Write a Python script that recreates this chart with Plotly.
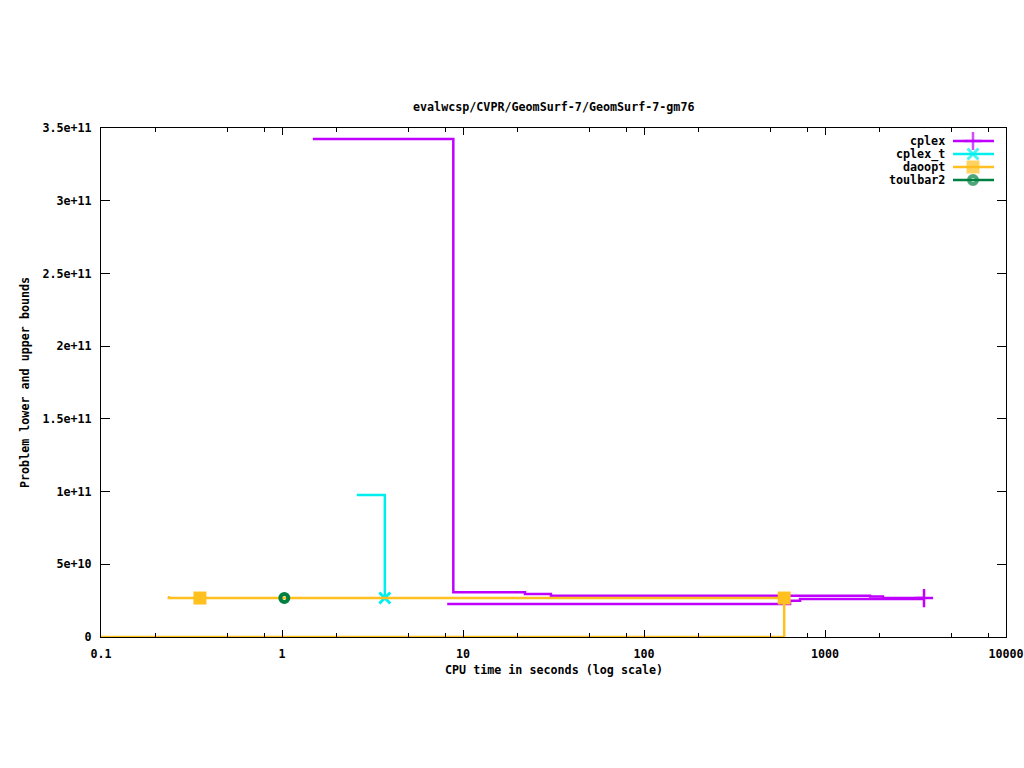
import plotly.graph_objects as go

# ---------------- data ----------------
title_text = "evalwcsp/CVPR/GeomSurf-7/GeomSurf-7-gm76"
x_title = "CPU time in seconds (log scale)"
y_title = "Problem lower and upper bounds"

series_names = ["cplex", "cplex_t", "daoopt", "toulbar2"]
series_colors = ["#c000ff", "#00eeee", "#ffc020", "#008040"]

# cplex upper bound (step)
cplex_ub_t = [1.48, 8.84, 22.0, 30.6, 1774, 2090, 3524]
cplex_ub_v = [3.424e11, 3.07e10, 2.96e10, 2.84e10, 2.78e10, 2.69e10, 2.69e10]
# cplex lower bound (step)
cplex_lb_t = [8.18, 641, 728, 3524]
cplex_lb_v = [2.27e10, 2.50e10, 2.62e10, 2.62e10]
cplex_mark_t = [3524]
cplex_mark_v = [2.68e10]

# cplex_t upper bound
cplext_ub_t = [2.59, 3.7]
cplext_ub_v = [9.76e10, 2.68e10]
cplext_mark_t = [3.7]
cplext_mark_v = [2.68e10]

# daoopt upper / lower bound
daoopt_ub_t = [0.234, 0.237, 595]
daoopt_ub_v = [2.73e10, 2.68e10, 2.68e10]
daoopt_lb_t = [0.1, 595]
daoopt_lb_v = [0.0, 2.68e10]
daoopt_mark_t = [0.352, 595]
daoopt_mark_v = [2.68e10, 2.68e10]

# toulbar2
toulbar2_t = [1.03]
toulbar2_v = [2.68e10]

x_tickvals = [0.1, 1, 10, 100, 1000, 10000]
x_ticktext = ["0.1", "1", "10", "100", "1000", "10000"]
x_minor = [0.2, 0.5, 0.8, 2, 5, 8, 20, 50, 80, 200, 500, 800, 2000, 5000, 8000]
y_tickvals = [0, 5e10, 1e11, 1.5e11, 2e11, 2.5e11, 3e11, 3.5e11]
y_ticktext = ["0", "5e+10", "1e+11", "1.5e+11", "2e+11", "2.5e+11", "3e+11", "3.5e+11"]

# ---------------- figure ----------------
FONT = dict(family="DejaVu Sans Mono", size=11.7, color="black", weight="bold")
LW = 2.5

fig = go.Figure()

def step(x, y, color):
    fig.add_trace(go.Scatter(x=x, y=y, mode="lines", line=dict(color=color, width=LW, shape="hv"),
                             showlegend=False, hoverinfo="skip"))

def marks(x, y, symbol, size, color, lw):
    fig.add_trace(go.Scatter(x=x, y=y, mode="markers",
                             marker=dict(symbol=symbol, size=size, color=color,
                                         line=dict(color=color, width=lw)),
                             showlegend=False, hoverinfo="skip"))

c_cplex, c_cplext, c_dao, c_tb = series_colors
step(cplex_ub_t, cplex_ub_v, c_cplex)
step(cplex_lb_t, cplex_lb_v, c_cplex)
marks(cplex_mark_t, cplex_mark_v, "cross-thin", 13, c_cplex, 2.5)
step(cplext_ub_t, cplext_ub_v, c_cplext)
marks(cplext_mark_t, cplext_mark_v, "x-thin", 11, c_cplext, 3)
step(daoopt_ub_t, daoopt_ub_v, c_dao)
step(daoopt_lb_t, daoopt_lb_v, c_dao)
marks(daoopt_mark_t, daoopt_mark_v, "square", 13, c_dao, 0)
marks(toulbar2_t, toulbar2_v, "circle-open", 8, c_tb, 4)

# ---------------- custom gnuplot-style legend ----------------
L, R, T, B = 101, 18, 128, 131
W, H = 1024, 768
PW, PH = W - L - R, H - T - B
def px(x): return (x - L) / PW
def py(y): return (T + PH - y) / PH

leg_rows = [141, 154, 167, 180]
leg_symbols = [("cross-thin", 13, 2.5), ("x-thin", 11, 3), ("square", 13, 0), ("circle-open", 8, 4)]
for name, color, row, (sym, sz, lw) in zip(series_names, series_colors, leg_rows, leg_symbols):
    yy = py(row)
    fig.add_trace(go.Scatter(x=[px(953), px(973), px(994)], y=[yy, yy, yy], xaxis="x2", yaxis="y2",
                             mode="lines+markers", line=dict(color=color, width=LW),
                             marker=dict(symbol=sym, size=[0, sz, 0], color=color,
                                         line=dict(color=color, width=lw)),
                             showlegend=False, hoverinfo="skip"))
    fig.add_annotation(x=px(947), y=yy, xref="paper", yref="paper", text=name, showarrow=False,
                       xanchor="right", yanchor="middle", font=FONT)

fig.add_annotation(x=0.5, y=py(107), xref="paper", yref="paper", text=title_text,
                   showarrow=False, xanchor="center", yanchor="middle", font=FONT)
fig.add_annotation(x=0.5, y=py(670), xref="paper", yref="paper", text=x_title,
                   showarrow=False, xanchor="center", yanchor="middle", font=FONT)
fig.add_annotation(x=px(25), y=py(383), xref="paper", yref="paper", text=y_title,
                   showarrow=False, xanchor="center", yanchor="middle", textangle=-90, font=FONT)

fig.update_layout(
    width=W, height=H, autosize=False,
    margin=dict(l=L, r=R, t=T, b=B, autoexpand=False),
    paper_bgcolor="white", plot_bgcolor="white",
    font=FONT,
    showlegend=False,
    xaxis=dict(type="log", range=[-1, 4], tickvals=x_tickvals, ticktext=x_ticktext,
               ticks="inside", ticklen=7, tickwidth=1, tickcolor="black",
               showline=True, linecolor="black", linewidth=1, mirror="ticks",
               showgrid=False, zeroline=False, ticklabelstandoff=6,
               minor=dict(tickvals=x_minor, ticks="inside", ticklen=4, tickcolor="black", showgrid=False)),
    yaxis=dict(range=[0, 3.5e11], tickvals=y_tickvals, ticktext=y_ticktext,
               ticks="inside", ticklen=9, tickwidth=1, tickcolor="black",
               showline=True, linecolor="black", linewidth=1, mirror="ticks",
               showgrid=False, zeroline=False, ticklabelstandoff=6),
    xaxis2=dict(overlaying="x", range=[0, 1], visible=False, fixedrange=True),
    yaxis2=dict(overlaying="y", range=[0, 1], visible=False, fixedrange=True),
)

fig.write_html("out.html", config={"responsive": False, "displayModeBar": False},
               post_script="document.body.style.margin='0px';document.body.style.overflow='hidden';")
